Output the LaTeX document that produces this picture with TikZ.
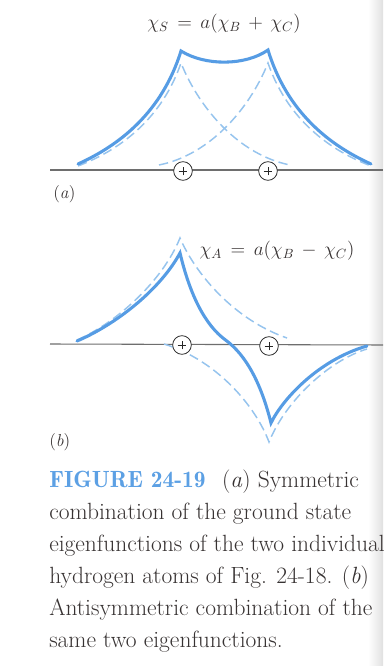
\documentclass[tikz,border=0pt]{standalone}
\usetikzlibrary{calc}
\definecolor{solidblue}{RGB}{86,156,228}
\definecolor{dashblue}{RGB}{150,196,238}
\definecolor{axisgray}{RGB}{110,110,110}
\definecolor{figblue}{RGB}{92,160,228}
\definecolor{textgray}{RGB}{55,50,50}
\tikzset{
  solidcurve/.style={solidblue, line width=2.3pt, line join=miter, line cap=round},
  dashcurve/.style={dashblue, line width=1.1pt, dash pattern=on 7pt off 3.5pt},
  axisline/.style={axisgray, line width=0.8pt},
  atom/.style={circle, draw=black!85, line width=0.6pt, fill=white, minimum size=14pt, inner sep=0pt,
    path picture={\draw[black!85, line width=0.6pt] ([xshift=-3.3pt]path picture bounding box.center) -- ([xshift=3.3pt]path picture bounding box.center)
      ([yshift=-3.3pt]path picture bounding box.center) -- ([yshift=3.3pt]path picture bounding box.center);}},
  eqlabel/.style={inner sep=0pt, text=textgray, font=\fontsize{14pt}{16pt}\selectfont},
  partlabel/.style={inner sep=0pt, text=textgray, font=\fontsize{13pt}{15pt}\selectfont, anchor=base west},
  capline/.style={inner sep=0pt, anchor=base west, text=textgray, font=\fontsize{17.6pt}{20pt}\selectfont}
}
\begin{document}
\begin{tikzpicture}[x=0.75pt,y=-0.75pt]
\useasboundingbox (0,0) rectangle (383,666);
\clip (0,0) rectangle (383,666);
\fill[white] (0,0) rectangle (383,666);
\shade[left color=white, right color=black!12] (368,0) rectangle (383,666);

% ---------- part (a) ----------
\coordinate (aL) at (50,170);
\coordinate (aR) at (383,170);
\draw[axisline] (aL) -- (aR);

% dashed single-atom functions
\draw[dashcurve] (78,166) .. controls (125,148) and (163,115) .. (181,63)
                 .. controls (200,110) and (240,155) .. (290,165);
\draw[dashcurve] (159,165) .. controls (209,155) and (249,110) .. (268,63)
                 .. controls (286,115) and (324,148) .. (371,166);
% solid symmetric combination
\draw[solidcurve] (78,164) .. controls (120,145) and (162,112) .. (181,51)
                  .. controls (205,66) and (245,66) .. (268,50)
                  .. controls (287,112) and (329,145) .. (371,164);

\node[atom] (aB) at (183,171) {};
\node[atom] (aC) at (268,171) {};

\node[eqlabel] (aeq) at (224,24) {$\chi_S\,=\,a(\chi_B\,+\,\chi_C)$};
\node[partlabel] (alab) at (53,199) {(\textit{a})};

% ---------- part (b) ----------
\coordinate (bL) at (50,344);
\coordinate (bR) at (383,345);
\draw[axisline] (bL) -- (bR);

\draw[dashcurve] (77,340) .. controls (118,322) and (163,280) .. (180,238)
                 .. controls (196,275) and (235,320) .. (287,338);
\draw[dashcurve] (164,344) .. controls (216,360) and (255,405) .. (269,442)
                 .. controls (286,400) and (330,360) .. (367,349);
\draw[solidcurve] (77,341) .. controls (115,325) and (160,290) .. (180,253)
                  .. controls (190,295) and (205,325) .. (225.5,340)
                  .. controls (246,355) and (261,383) .. (271,423)
                  .. controls (282,400) and (318,360) .. (367,346);

\node[atom] (bB) at (182,345) {};
\node[atom] (bC) at (269,346) {};

\node[eqlabel] (beq) at (277,251) {$\chi_A\,=\,a(\chi_B\,-\,\chi_C)$};
\node[partlabel] (blab) at (49,446) {(\textit{b})};

% ---------- caption ----------
\node[capline] (c1) at (49,487) {\textcolor{figblue}{\fontseries{b}\selectfont FIGURE 24-19}\hspace{0.7em}(\textit{a}) Symmetric};
\node[capline] (c2) at (49,519) {combination of the ground state};
\node[capline] (c3) at (49,551) {eigenfunctions of the two individual};
\node[capline] (c4) at (49,583) {hydrogen atoms of Fig. 24-18. (\textit{b})};
\node[capline] (c5) at (49,615) {Antisymmetric combination of the};
\node[capline] (c6) at (49,647) {same two eigenfunctions.};
\end{tikzpicture}
\end{document}
